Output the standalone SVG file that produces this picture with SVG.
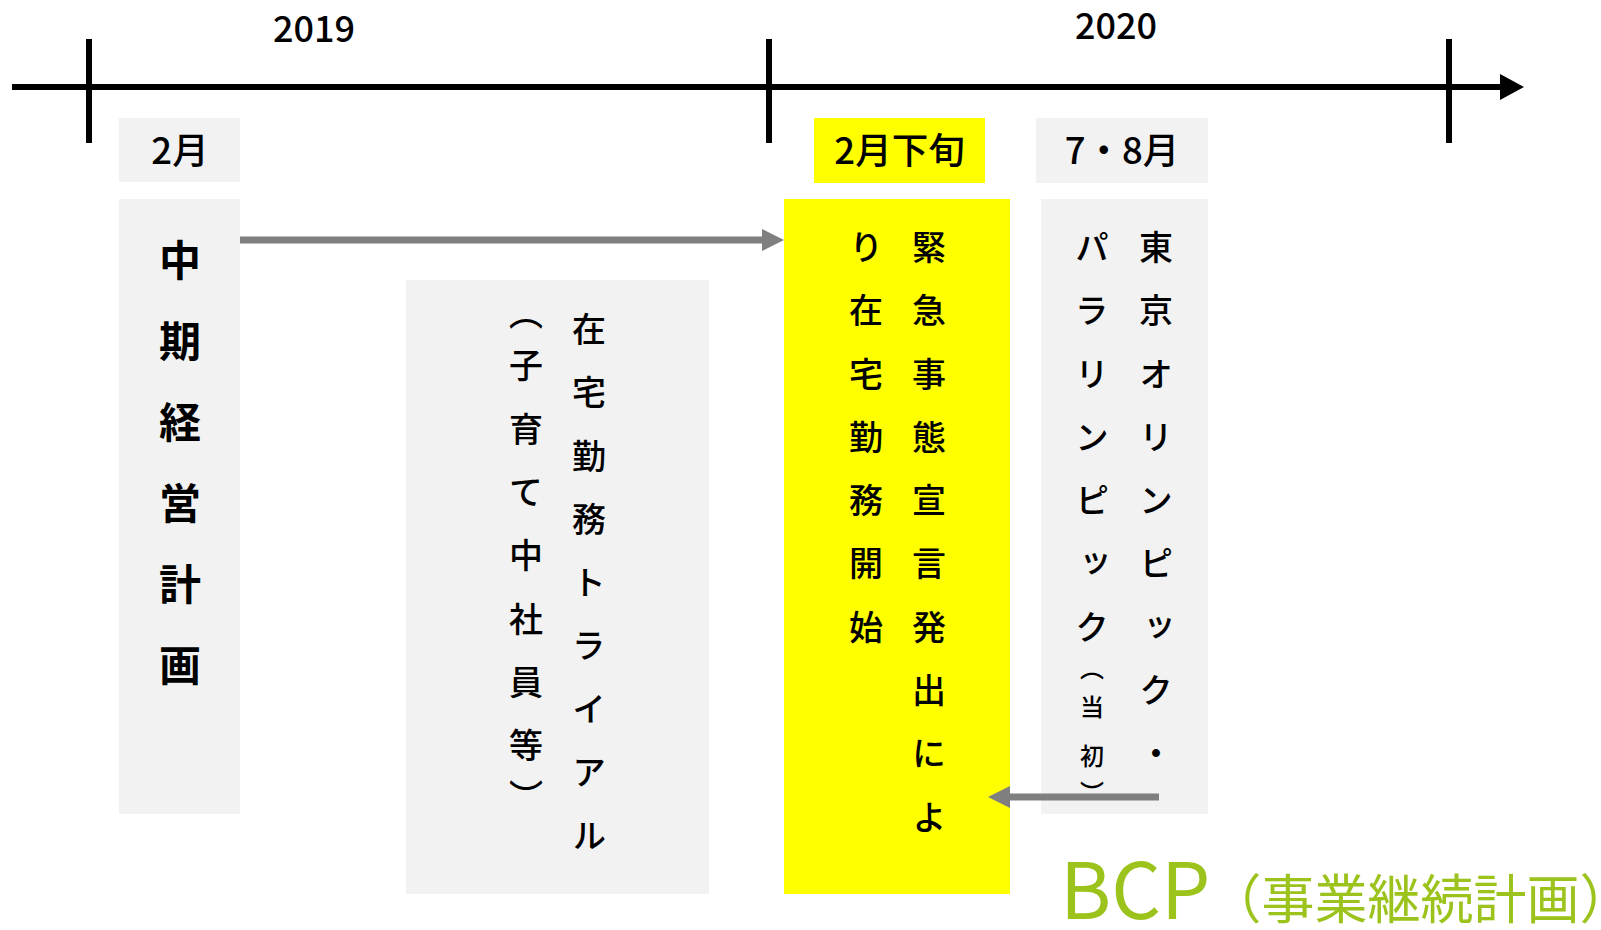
<svg xmlns="http://www.w3.org/2000/svg" width="1601" height="930" viewBox="0 0 1601 930">
<style>
text{font-family:"Noto Sans CJK JP","Noto Sans",sans-serif;fill:#000;font-weight:500}
.yr{font-size:36px;text-anchor:middle}
.lbl{font-size:36.5px;text-anchor:middle}
.v{writing-mode:vertical-rl;font-size:34px;letter-spacing:29.3px}
.sm{font-size:24px;letter-spacing:25px}
.big{writing-mode:vertical-rl;font-size:42px;letter-spacing:39px;font-weight:700}
.gray{fill:#f2f2f2}
.yel{fill:#ffff00}
.bcp{fill:#9bc31b}
</style>
<defs>
<marker id="ah-black" markerUnits="userSpaceOnUse" markerWidth="26" markerHeight="28" refX="0" refY="13" orient="auto"><path d="M0,0 L24,13 L0,26 Z" fill="#000"/></marker>
<marker id="ah-gray" markerUnits="userSpaceOnUse" markerWidth="24" markerHeight="24" refX="0" refY="11" orient="auto"><path d="M0,0 L22,11 L0,22 Z" fill="#7f7f7f"/></marker>
</defs>
<g id="timeline">
<line x1="12" y1="87" x2="1500" y2="87" stroke="#000" stroke-width="6" marker-end="url(#ah-black)"/>
<line x1="89" y1="39" x2="89" y2="143" stroke="#000" stroke-width="6"/>
<line x1="769" y1="39" x2="769" y2="143" stroke="#000" stroke-width="6"/>
<line x1="1449" y1="39" x2="1449" y2="143" stroke="#000" stroke-width="6"/>
<text class="yr" x="314" y="42">2019</text>
<text class="yr" x="1116" y="39">2020</text>
</g>
<g id="label-feb2019">
<rect class="gray" x="119" y="118" width="121" height="64"/>
<text class="lbl" x="180" y="164">2月</text>
</g>
<g id="label-feb2020">
<rect class="yel" x="814" y="118" width="171" height="65"/>
<text class="lbl" x="899.5" y="164">2月下旬</text>
</g>
<g id="label-jul2020">
<rect class="gray" x="1036" y="118" width="172" height="65"/>
<text class="lbl" x="1122" y="164">7・8月</text>
</g>
<g id="node-plan">
<rect class="gray" x="119" y="199" width="121" height="615"/>
<text class="big" x="180" y="239">中期経営計画</text>
</g>
<g id="node-trial">
<rect class="gray" x="406" y="280" width="303" height="614"/>
<text class="v" x="589" y="312">在宅勤務トライアル</text>
<text class="v" x="526" y="296">（<tspan y="348.8">子育て中社員等</tspan><tspan y="779.6">）</tspan></text>
</g>
<g id="node-emergency">
<rect class="yel" x="784" y="199" width="226" height="695"/>
<text class="v" x="929" y="230">緊急事態宣言発出によ</text>
<text class="v" x="866" y="230">り在宅勤務開始</text>
</g>
<g id="node-olympic">
<rect class="gray" x="1041" y="199" width="167" height="615"/>
<text class="v" x="1156" y="230">東京オリンピック・</text>
<text class="v" x="1092" y="230">パラリンピック<tspan class="sm" y="655.5">（</tspan><tspan class="sm" y="695">当初</tspan><tspan class="sm" y="781">）</tspan></text>
</g>
<g id="connectors">
<line x1="240" y1="240" x2="762" y2="240" stroke="#7f7f7f" stroke-width="7" marker-end="url(#ah-gray)"/>
<line x1="1159" y1="797" x2="1010" y2="797" stroke="#7f7f7f" stroke-width="7" marker-end="url(#ah-gray)"/>
</g>
<g id="bcp-label">
<text class="bcp" x="1060" y="919" style="font-size:78px;font-weight:400">BCP<tspan style="font-size:53px" dx="-2">（事業継続計画）</tspan></text>
</g>
</svg>
